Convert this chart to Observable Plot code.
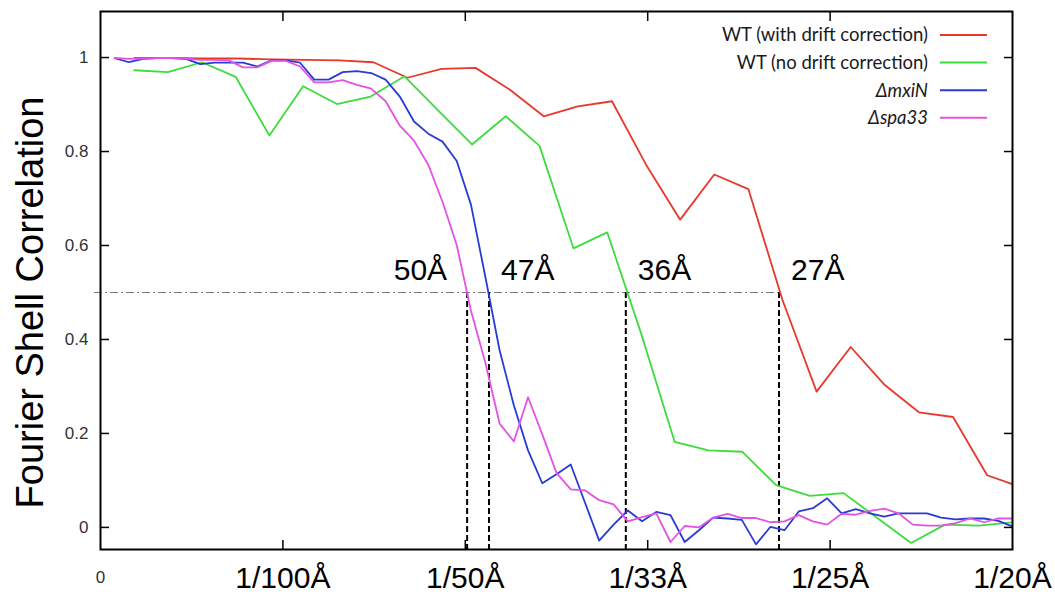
<!DOCTYPE html>
<html><head><meta charset="utf-8">
<script src="https://cdn.jsdelivr.net/npm/d3@7"></script>
<script src="https://cdn.jsdelivr.net/npm/@observablehq/plot@0.6"></script>
<style>html,body{margin:0;padding:0;background:#fff;} svg{display:block}</style>
</head><body><div id="chart"></div>
<script>
// ---- data ----
const seriesNames = ["WT (with drift correction)", "WT (no drift correction)", "ΔmxiN", "Δspa33"];
const seriesColors = ["#e8382c", "#3ddc3d", "#2a3ad4", "#e452e4"];
const seriesItalic = [false, false, true, true];

const wtDriftFreq = [0.00187,0.00374,0.00561,0.00748,0.00935,0.01122,0.01309,0.01496,0.01683,0.0187,0.02056,0.02243,0.0243,0.02617,0.02804,0.02991,0.03178,0.03365,0.03552,0.03739,0.03926,0.04113,0.043,0.04487,0.04674,0.04861,0.05];
const wtDriftFsc = [0.999,0.999,0.998,0.998,0.996,0.995,0.994,0.990,0.957,0.976,0.978,0.932,0.875,0.896,0.907,0.772,0.655,0.751,0.720,0.484,0.289,0.384,0.303,0.245,0.235,0.111,0.092];

const wtNoDriftFreq = [0.00185,0.0037,0.00556,0.00741,0.00926,0.01111,0.01296,0.01481,0.01667,0.01852,0.02037,0.02222,0.02407,0.02593,0.02778,0.02963,0.03148,0.03333,0.03519,0.03704,0.03889,0.04074,0.04259,0.04444,0.0463,0.04815,0.05];
const wtNoDriftFsc = [0.973,0.969,0.990,0.959,0.834,0.939,0.901,0.917,0.960,0.887,0.815,0.875,0.812,0.594,0.628,0.414,0.182,0.164,0.161,0.090,0.067,0.073,0.020,-0.033,0.006,0.004,0.011];

const mutantFreq = [0.00078,0.00156,0.00234,0.00313,0.00391,0.00469,0.00547,0.00625,0.00703,0.00781,0.00859,0.00938,0.01016,0.01094,0.01172,0.0125,0.01328,0.01406,0.01484,0.01563,0.01641,0.01719,0.01797,0.01875,0.01953,0.02031,0.02109,0.02188,0.02266,0.02344,0.02422,0.025,0.02578,0.02656,0.02734,0.02813,0.02891,0.02969,0.03047,0.03125,0.03203,0.03281,0.03359,0.03438,0.03516,0.03594,0.03672,0.0375,0.03828,0.03906,0.03984,0.04063,0.04141,0.04219,0.04297,0.04375,0.04453,0.04531,0.04609,0.04688,0.04766,0.04844,0.04922,0.05];
const mxiNFsc = [0.999,0.990,0.997,0.999,0.999,0.997,0.986,0.989,0.989,0.989,
  0.981,0.994,0.994,0.989,0.953,0.953,0.969,0.971,0.967,0.953,
  0.917,0.864,0.838,0.821,0.780,0.687,0.535,0.377,0.260,0.164,
  0.094,0.113,0.134,0.053,-0.028,0.006,0.036,0.013,0.033,0.026,
  -0.031,-0.006,0.021,0.019,0.016,-0.036,0.001,-0.006,0.034,0.041,
  0.062,0.030,0.039,0.030,0.023,0.030,0.030,0.030,0.021,0.017,
  0.019,0.019,0.014,0.002];
const spa33Fsc = [0.999,0.997,0.998,0.999,0.999,0.998,0.995,0.995,0.994,0.979,
  0.979,0.993,0.993,0.981,0.947,0.947,0.952,0.942,0.934,0.907,
  0.855,0.823,0.772,0.693,0.601,0.461,0.352,0.221,0.183,0.277,
  0.198,0.116,0.081,0.079,0.058,0.049,0.013,0.022,0.030,-0.031,
  0.003,0.000,0.021,0.029,0.020,0.020,0.011,0.013,0.026,0.013,
  0.006,0.029,0.027,0.035,0.040,0.030,0.006,0.004,0.004,0.009,
  0.019,0.011,0.019,0.019];

const yTicks = [0, 0.2, 0.4, 0.6, 0.8, 1];
const yTickLabels = ["0", "0.2", "0.4", "0.6", "0.8", "1"];
const xTicks = [0, 0.01, 0.02, 0.03, 0.04, 0.05];
const xTickLabels = ["0", "1/100Å", "1/50Å", "1/33Å", "1/25Å", "1/20Å"];
const threshold = 0.5;
const crossings = [0.0201, 0.0213, 0.0288, 0.0372];
const crossingLabels = ["50Å", "47Å", "36Å", "27Å"];
const yTitle = "Fourier Shell Correlation";

// ---- build table ----
const rows = [];
const pushSeries = (name, xs, ys) => xs.forEach((x, i) => rows.push({series: name, x, y: ys[i]}));
pushSeries(seriesNames[0], wtDriftFreq, wtDriftFsc);
pushSeries(seriesNames[1], wtNoDriftFreq, wtNoDriftFsc);
pushSeries(seriesNames[2], mutantFreq, mxiNFsc);
pushSeries(seriesNames[3], mutantFreq, spa33Fsc);
const crossingRows = crossingLabels.map((label, i) => ({label, x: crossings[i]}));
const innerTicksX = xTicks.slice(1, -1);
const FONT = "'Liberation Sans', Arial, sans-serif";

const plot = Plot.plot({
  width: 1055, height: 595,
  marginLeft: 100, marginRight: 43, marginTop: 11, marginBottom: 46,
  style: {fontFamily: FONT, background: "white", color: "black"},
  x: {domain: [0, 0.05]},
  y: {domain: [-0.047, 1.098]},
  color: {domain: seriesNames, range: seriesColors},
  marks: [
    Plot.ruleY([threshold], {x1: 0, x2: crossings[3], insetLeft: -6, stroke: "#777", strokeWidth: 1, strokeDasharray: "8,3,2,3"}),
    Plot.ruleX(crossings, {x: d => d, y1: threshold, y2: -0.047, stroke: "black", strokeWidth: 2, strokeDasharray: "6,3"}),
    Plot.line(rows, {x: "x", y: "y", z: "series", stroke: "series", strokeWidth: 1.8, clip: true}),
    Plot.text(crossingRows.slice(0, 1), {x: "x", y: () => threshold, text: "label", textAnchor: "end", dx: -20, dy: -22, fontSize: 30, lineAnchor: "middle", fill: "black"}),
    Plot.text(crossingRows.slice(1), {x: "x", y: () => threshold, text: "label", textAnchor: "start", dx: 12, dy: -22, fontSize: 30, lineAnchor: "middle", fill: "black"}),
    Plot.frame({stroke: "black", strokeWidth: 2}),
    Plot.axisY(yTicks, {anchor: "left", tickSize: -9, tickPadding: 21, strokeWidth: 1.5, fontSize: 17, fill: "#333", stroke: "black", label: null, tickFormat: d => yTickLabels[yTicks.indexOf(d)]}),
    Plot.axisY(yTicks, {anchor: "right", tickSize: -9, strokeWidth: 1.5, label: null, tickFormat: () => ""}),
    Plot.axisX(innerTicksX, {anchor: "bottom", tickSize: -9, strokeWidth: 1.5, label: null, tickFormat: () => ""}),
    Plot.axisX(innerTicksX, {anchor: "top", tickSize: -9, strokeWidth: 1.5, label: null, tickFormat: () => ""}),
    Plot.axisX(xTicks.slice(1), {anchor: "bottom", tickSize: 0, tickPadding: 17, fontSize: 30, label: null, tickFormat: d => xTickLabels[xTicks.indexOf(d)]}),
    Plot.axisX(xTicks.slice(0, 1), {anchor: "bottom", tickSize: 0, tickPadding: 21, fontSize: 17, fill: "#333", label: null, tickFormat: d => xTickLabels[xTicks.indexOf(d)]}),
    Plot.text([yTitle], {frameAnchor: "left", rotate: -90, dx: -70, dy: 22, fontSize: 38, textAnchor: "middle", fill: "black"})
  ]
});

// legend inside the frame, top right
const svg = d3.select(plot);
const lg = svg.append("g").attr("font-family", "Lato, 'Open Sans', sans-serif").attr("font-size", 18.5).attr("fill", "#1a1a1a");
seriesNames.forEach((name, i) => {
  const y = 35 + i * 27.6;
  lg.append("text").attr("x", 928).attr("y", y).attr("dy", "0.35em").attr("text-anchor", "end")
    .attr("font-style", seriesItalic[i] ? "italic" : "normal").text(name);
  lg.append("line").attr("x1", 940).attr("x2", 987).attr("y1", y).attr("y2", y)
    .attr("stroke", seriesColors[i]).attr("stroke-width", 2);
});

document.getElementById("chart").appendChild(plot);
</script>
</body></html>
